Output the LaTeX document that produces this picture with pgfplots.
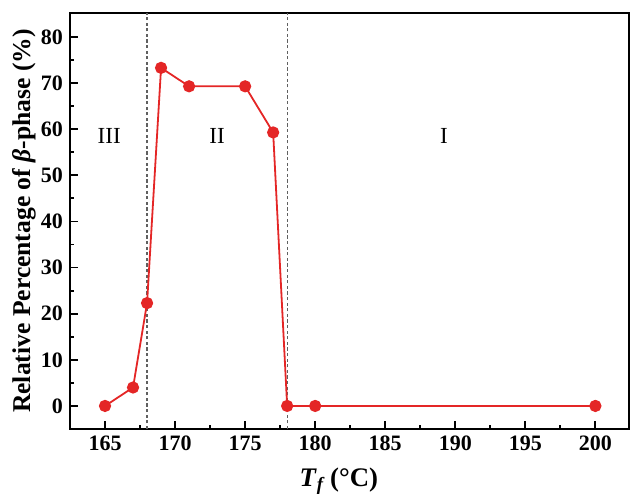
\documentclass[border=0pt]{standalone}
\usepackage{pgfplots}
\pgfplotsset{compat=1.18}
\usepackage{fontspec}
\setmainfont{Liberation Serif}
\definecolor{myred}{RGB}{228,38,38}
\begin{document}
\begin{tikzpicture}
\begin{axis}[
  name=ax,
  at={(0,0)}, anchor=south west,
  scale only axis, width=279.5pt, height=208pt,
  xmin=162.5, xmax=202.4, ymin=-5, ymax=85.2,
  xtick={165,170,...,200}, ytick={0,10,...,80},
  minor x tick num=1, minor y tick num=1,
  tick align=inside,
  xtick pos=bottom, ytick pos=left,
  major tick length=4.2pt, minor tick length=2.2pt,
  every tick/.style={black, line width=0.9pt},
  axis line style={line width=1pt},
  /pgf/number format/assume math mode=true,
  /pgf/number format/1000 sep={},
  tick label style={font=\bfseries\fontsize{11}{13}\selectfont},
  xlabel={\textbf{\textit{T}\textsubscript{\textit{f}}\,(°C)}},
  ylabel={\textbf{Relative Percentage of \textit{β}-phase (\%)}},
  xlabel style={font=\fontsize{13.4}{15}\selectfont, at={(axis description cs:0.481,-0.125)}, anchor=center},
  ylabel style={font=\fontsize{12.8}{15}\selectfont, at={(axis description cs:-0.0823,0.5)}, anchor=center},
  clip=false,
]
\addplot[gray!75!black, line width=0.6pt, dash pattern=on 1.6pt off 1.2pt] coordinates {(168,-5) (168,85.2)};
\addplot[gray!75!black, line width=0.6pt, dash pattern=on 1.6pt off 1.2pt] coordinates {(178,-5) (178,85.2)};
\addplot[color=myred, line width=0.9pt, mark=*, mark size=2.6pt, mark options={fill=myred, draw=myred}] coordinates {
(165,0) (167,4) (168,22.3) (169,73.3) (171,69.3) (175,69.3) (177,59.3) (178,0) (180,0) (200,0)};
\node[font=\fontsize{11.5}{13}\selectfont] at (axis cs:165.3,58.5) {III};
\node[font=\fontsize{11.5}{13}\selectfont] at (axis cs:173.0,58.5) {II};
\node[font=\fontsize{11.5}{13}\selectfont] at (axis cs:189.2,58.5) {I};
\end{axis}
\pgfresetboundingbox
\path (-35pt,-34.5pt) rectangle (280pt,214.5pt);
\end{tikzpicture}
\end{document}
